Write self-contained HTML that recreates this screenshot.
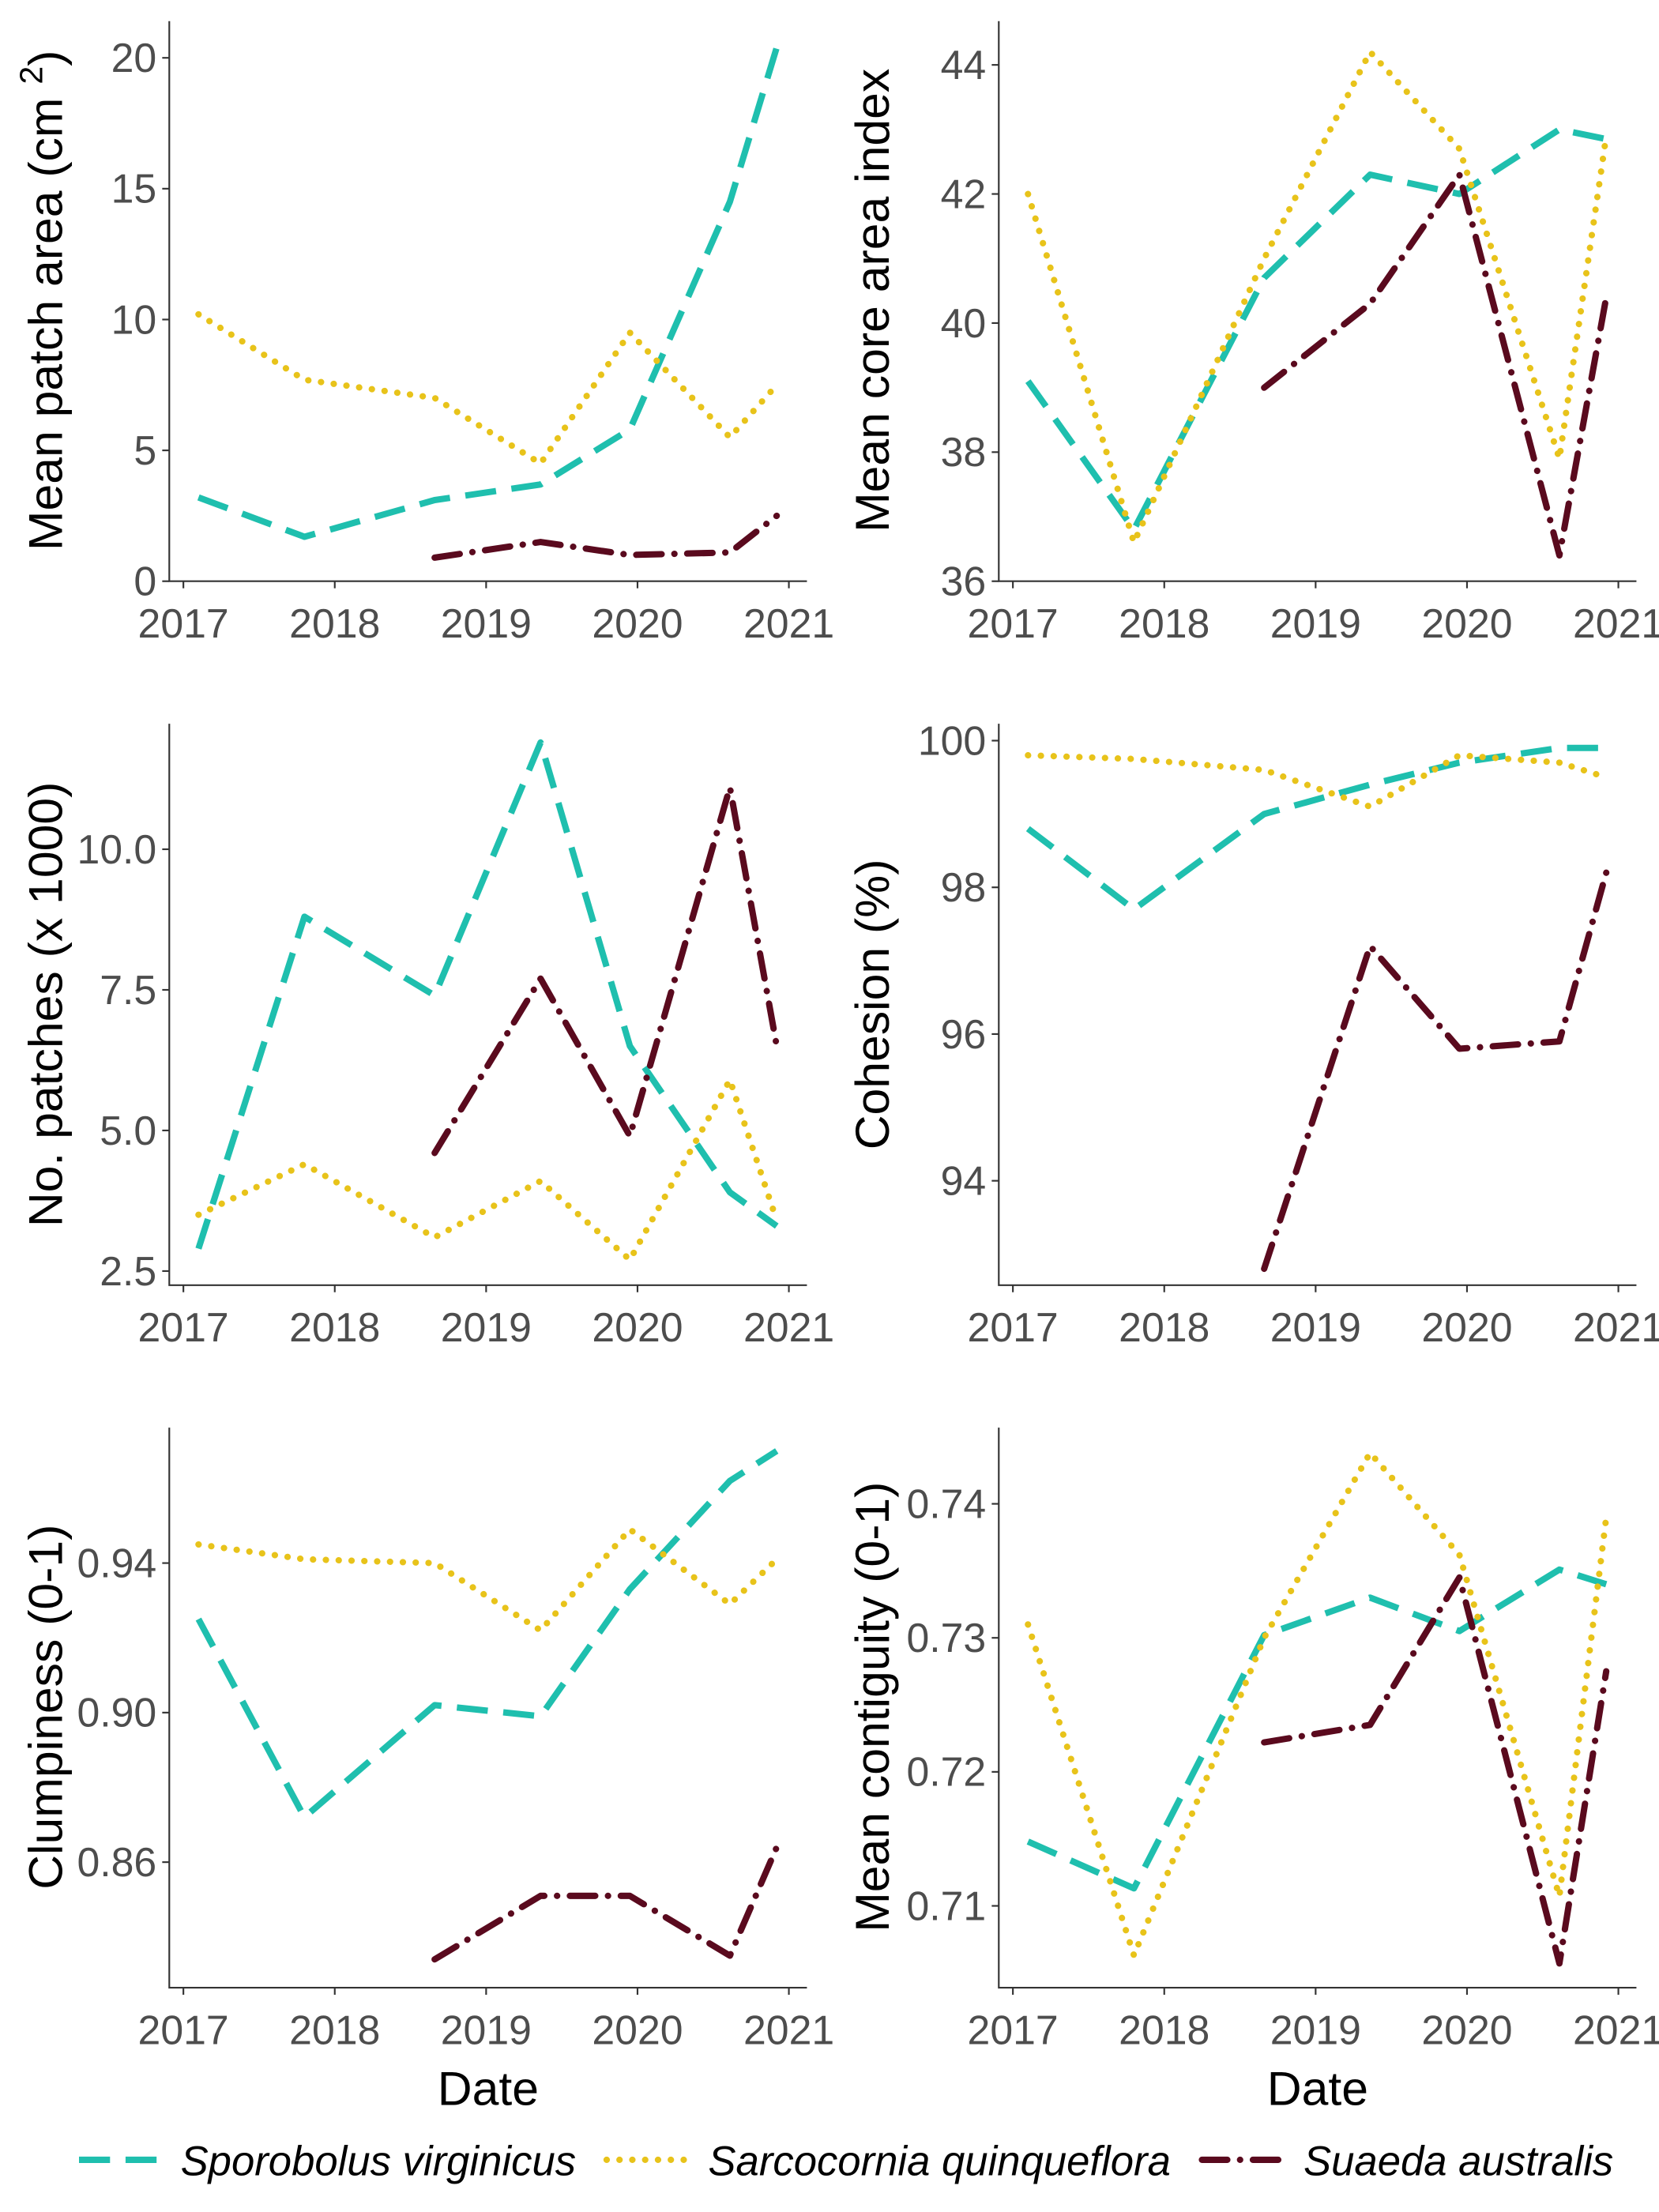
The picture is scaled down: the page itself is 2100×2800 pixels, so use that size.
<!DOCTYPE html>
<html><head><meta charset="utf-8"><style>
html,body{margin:0;padding:0;background:#fff;}
svg{display:block;}
</style></head><body>
<svg id="chart" width="2100" height="2800" viewBox="0 0 1176 1568" xmlns="http://www.w3.org/2000/svg" font-family="Liberation Sans, sans-serif"></svg>
<script>
const dates = [2017.1, 2017.8, 2018.66, 2019.36, 2019.95, 2020.61, 2020.92];
const suaedaDates = [2018.66, 2019.36, 2019.95, 2020.61, 2020.92];
const xTicks = [2017, 2018, 2019, 2020, 2021];

const areaSpor = [3.2, 1.7, 3.1, 3.7, 5.8, 14.5, 20.4];
const areaSarc = [10.2, 7.7, 7.0, 4.5, 9.5, 5.5, 7.5];
const areaSuae = [0.9, 1.5, 1.0, 1.1, 2.5];
const areaTicks = [0, 5, 10, 15, 20];

const coreSpor = [39.1, 36.8, 40.7, 42.3, 42.0, 43.0, 42.85];
const coreSarc = [42.0, 36.6, 41.0, 44.2, 42.7, 37.9, 42.9];
const coreSuae = [39.0, 40.3, 42.3, 36.4, 40.4];
const coreTicks = [36, 38, 40, 42, 44];

const numSpor = [2.9, 8.8, 7.4, 11.9, 6.5, 3.9, 3.3];
const numSarc = [3.5, 4.4, 3.1, 4.1, 2.7, 5.9, 3.4];
const numSuae = [4.6, 7.7, 4.9, 11.1, 6.5];
const numTicks = [2.5, 5.0, 7.5, 10.0];

const cohSpor = [98.8, 97.7, 99.0, 99.4, 99.7, 99.9, 99.9];
const cohSarc = [99.8, 99.75, 99.6, 99.1, 99.8, 99.7, 99.5];
const cohSuae = [92.8, 97.2, 95.8, 95.9, 98.2];
const cohTicks = [94, 96, 98, 100];

const clumpSpor = [0.925, 0.872, 0.902, 0.899, 0.933, 0.962, 0.970];
const clumpSarc = [0.945, 0.941, 0.940, 0.922, 0.949, 0.929, 0.941];
const clumpSuae = [0.834, 0.851, 0.851, 0.835, 0.864];
const clumpTicks = [0.86, 0.90, 0.94];

const contSpor = [0.7148, 0.7113, 0.7302, 0.7330, 0.7305, 0.7351, 0.7340];
const contSarc = [0.7310, 0.7063, 0.7300, 0.7438, 0.7362, 0.7107, 0.7390];
const contSuae = [0.7222, 0.7235, 0.7345, 0.7057, 0.7275];
const contTicks = [0.71, 0.72, 0.73, 0.74];

const NS = 'http://www.w3.org/2000/svg';
const svg = document.getElementById('chart');
function mk(tag, attrs, parent) {
  const e = document.createElementNS(NS, tag);
  for (const k in attrs) e.setAttribute(k, attrs[k]);
  (parent || svg).appendChild(e);
  return e;
}
const styles = {
  spor: {stroke:'#1FBFAE', dash:'22,11', cap:'butt'},
  sarc: {stroke:'#E8C31A', dash:'0.1,9', cap:'round'},
  suae: {stroke:'#5A0A1E', dash:'18,9,0.1,9', cap:'round'}
};
const panels = [
  {name:'mean-patch-area', L:120, R:572, T:15, B:412, v1:0, p1:412, v2:20, p2:41, ticks:areaTicks, fmt:v=>String(v), title:'Mean patch area (cm', sup:true, tx:32, ty:213, spor:areaSpor, sarc:areaSarc, suae:areaSuae},
  {name:'mean-core-area-index', L:708, R:1160, T:15, B:412, v1:36, p1:412, v2:44, p2:46, ticks:coreTicks, fmt:v=>String(v), title:'Mean core area index', tx:618, ty:213, spor:coreSpor, sarc:coreSarc, suae:coreSuae},
  {name:'number-of-patches', L:120, R:572, T:513, B:911, v1:2.5, p1:901, v2:10, p2:602, ticks:numTicks, fmt:v=>v.toFixed(1), title:'No. patches (x 1000)', tx:32, ty:712, spor:numSpor, sarc:numSarc, suae:numSuae},
  {name:'cohesion', L:708, R:1160, T:513, B:911, v1:94, p1:837, v2:100, p2:525, ticks:cohTicks, fmt:v=>String(v), title:'Cohesion (%)', tx:618, ty:712, spor:cohSpor, sarc:cohSarc, suae:cohSuae},
  {name:'clumpiness', L:120, R:572, T:1012, B:1409, v1:0.86, p1:1320, v2:0.94, p2:1108, ticks:clumpTicks, fmt:v=>v.toFixed(2), title:'Clumpiness (0-1)', tx:32, ty:1210, spor:clumpSpor, sarc:clumpSarc, suae:clumpSuae},
  {name:'mean-contiguity', L:708, R:1160, T:1012, B:1409, v1:0.71, p1:1351, v2:0.74, p2:1066, ticks:contTicks, fmt:v=>v.toFixed(2), title:'Mean contiguity (0-1)', tx:618, ty:1210, spor:contSpor, sarc:contSarc, suae:contSuae}
];
panels.forEach((p, i) => {
  const g = mk('g', {});
  
  
  const xs = v => p.L + 10 + (v - 2017) * 107.3;
  const ys = v => p.p1 + (v - p.v1) * (p.p2 - p.p1) / (p.v2 - p.v1);
  const ax = mk('path', {d:`M${p.L},${p.T}V${p.B}H${p.R}`, fill:'none', stroke:'#333', 'stroke-width':1.2}, g);
  
  
  xTicks.forEach(t => {
    const x = xs(t);
    mk('line', {x1:x, x2:x, y1:p.B, y2:p.B+5, stroke:'#333', 'stroke-width':1.2}, g);
    const tl = mk('text', {x:x, y:p.B+40, 'text-anchor':'middle', 'font-size':29, fill:'#4d4d4d'}, g);
    tl.textContent = t;
    
    
  });
  p.ticks.forEach(t => {
    const y = ys(t);
    mk('line', {x1:p.L-5, x2:p.L, y1:y, y2:y, stroke:'#333', 'stroke-width':1.2}, g);
    const tl = mk('text', {x:p.L-9, y:y+10, 'text-anchor':'end', 'font-size':29, fill:'#4d4d4d'}, g);
    tl.textContent = p.fmt(t);
    
    
  });
  const tt = mk('text', {x:0, y:0, transform:`translate(${p.tx + 12},${p.ty}) rotate(-90)`, 'text-anchor':'middle', 'font-size':34, fill:'#000'}, g);
  
  
  if (p.sup) {
    tt.textContent = p.title + ' ';
    const s = mk('tspan', {'font-size':23, dy:-14}, tt); s.textContent = '2';
    const c = mk('tspan', {dy:14}, tt); c.textContent = ')';
  } else tt.textContent = p.title;
  if (i >= 4) {
    const xt = mk('text', {x:(p.L + p.R) / 2, y:1492, 'text-anchor':'middle', 'font-size':34, fill:'#000'}, g);
    xt.textContent = 'Date';
    
    
  }
  [['spor', dates], ['sarc', dates], ['suae', suaedaDates]].forEach(([k, ds]) => {
    const vals = p[k];
    const d = vals.map((v, j) => (j ? 'L' : 'M') + xs(ds[j]).toFixed(1) + ',' + ys(v).toFixed(1)).join('');
    const st = styles[k];
    const ln = mk('path', {d:d, fill:'none', stroke:st.stroke, 'stroke-width':4.5, 'stroke-dasharray':st.dash, 'stroke-linecap':st.cap, 'stroke-linejoin':'round'}, g);
    
    
  });
});
const lg = mk('g', {});


[['spor', 56, 'Sporobolus virginicus'], ['sarc', 430, 'Sarcocornia quinqueflora'], ['suae', 852, 'Suaeda australis']].forEach(([k, x, label]) => {
  const st = styles[k];
  const ln = mk('line', {x1:x, x2:x+58, y1:1531, y2:1531, stroke:st.stroke, 'stroke-width':4.5, 'stroke-dasharray':st.dash, 'stroke-linecap':st.cap}, lg);
  
  
  const t = mk('text', {x:x+72, y:1542, 'font-size':29.5, 'font-style':'italic', fill:'#000'}, lg);
  t.textContent = label;
  
  
});
</script>
</body></html>
